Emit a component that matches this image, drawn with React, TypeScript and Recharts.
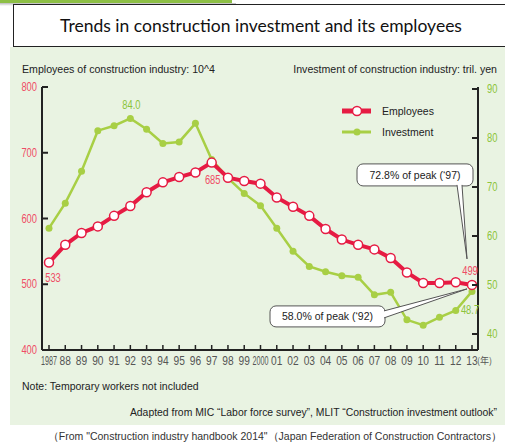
import { LineChart, Line, XAxis, YAxis, ReferenceDot, LabelList } from "recharts";

const years = [
  "1987", "88", "89", "90", "91", "92", "93", "94", "95", "96", "97", "98", "99",
  "2000", "01", "02", "03", "04", "05", "06", "07", "08", "09", "10", "11", "12", "13",
];
// employees of construction industry, 10^4 persons
const employees = [
  533, 560, 578, 588, 604, 619, 640, 655, 663, 670, 685, 662, 657,
  653, 632, 618, 604, 584, 568, 560, 553, 540, 518, 502, 502, 503, 499,
];
// construction investment, trillion yen
const investment = [
  61.6, 66.7, 73.2, 81.5, 82.5, 84.0, 81.8, 78.9, 79.2, 83.0, 75.6, 71.8, 68.7,
  66.2, 61.6, 56.9, 53.8, 52.7, 51.9, 51.6, 48.0, 48.5, 42.9, 41.8, 43.4, 44.8, 48.7,
];
const leftTicks = [400, 500, 600, 700, 800];
const rightTicks = [40, 50, 60, 70, 80, 90];

const data = years.map((year, i) => ({
  year,
  employees: employees[i],
  investment: investment[i],
}));

const RED = "#e61b43";
const RED_TEXT = "#ef4d66";
const GREEN = "#a8cf45";
const GREEN_TEXT = "#8cc43c";
const FONT = "'Liberation Sans', Arial, sans-serif";

// which points carry a value label, and where it sits relative to the point
const employeeLabelAt: Record<number, { dx: number; dy: number }> = {
  0: { dx: 4, dy: 19 },
  10: { dx: 1, dy: 21 },
  26: { dx: -2, dy: -10 },
};
const investmentLabelAt: Record<number, { dx: number; dy: number }> = {
  5: { dx: 1, dy: -9 },
  26: { dx: -2, dy: 23 },
};

const makeLabel = (where: Record<number, { dx: number; dy: number }>, color: string, digits: number) =>
  (props: any) => {
    const { x, y, value, index } = props;
    const pos = where[index];
    if (!pos) return null;
    return (
      <text
        transform={`translate(${x + pos.dx},${y + pos.dy}) scale(0.78,1)`}
        textAnchor="middle"
        fill={color}
        fontSize={12}
        fontFamily={FONT}
      >
        {Number(value).toFixed(digits)}
      </text>
    );
  };

const LeftTick = ({ x, y, payload }: any) => (
  <g>
    <line x1={x} x2={x + 6} y1={y} y2={y} stroke="#222" strokeWidth={2} />
    <text
      transform={`translate(${x - 5},${y + 4}) scale(0.78,1)`}
      textAnchor="end"
      fill={RED_TEXT}
      fontSize={12}
      fontFamily={FONT}
    >
      {payload.value}
    </text>
  </g>
);

const RightTick = ({ x, y, payload }: any) => (
  <g>
    <line x1={x - 6} x2={x} y1={y} y2={y} stroke="#222" strokeWidth={2} />
    <text
      transform={`translate(${x + 9},${y + 4}) scale(0.78,1)`}
      textAnchor="start"
      fill={GREEN_TEXT}
      fontSize={12}
      fontFamily={FONT}
    >
      {payload.value}
    </text>
  </g>
);

const XTick = ({ x, y, payload, index }: any) => {
  const label = String(payload.value);
  const sx = label.length === 4 ? 0.6 : 0.85;
  return (
    <g>
      <line x1={x} x2={x} y1={y - 5} y2={y} stroke="#222" strokeWidth={1.5} />
      <text
        transform={`translate(${x},${y + 15}) scale(${sx},1)`}
        textAnchor="middle"
        fill="#555"
        fontSize={12}
        fontFamily={FONT}
      >
        {label}
      </text>
      {index === years.length - 1 && (
        <text x={x + 5} y={y + 14} fill="#555" fontSize={9} fontFamily="'Noto Sans CJK JP', sans-serif">
          (年)
        </text>
      )}
    </g>
  );
};

// callout boxes hanging off the 2013 point
const Callout = ({ cx, cy, text, box, base, tip }: any) => {
  const [bx, by, bw, bh] = box;
  return (
    <g fontFamily={FONT}>
      <rect x={cx + bx} y={cy + by} width={bw} height={bh} rx={6} fill="#fff" stroke="#555" strokeWidth={1} />
      <polygon
        points={`${cx + base[0]},${cy + base[1]} ${cx + base[2]},${cy + base[3]} ${cx + tip[0]},${cy + tip[1]}`}
        fill="#fff"
        stroke="none"
      />
      <line x1={cx + base[0]} y1={cy + base[1]} x2={cx + tip[0]} y2={cy + tip[1]} stroke="#555" />
      <line x1={cx + base[2]} y1={cy + base[3]} x2={cx + tip[0]} y2={cy + tip[1]} stroke="#555" />
      <text x={cx + bx + bw / 2} y={cy + by + bh / 2 + 4} textAnchor="middle" fontSize={10.5} fill="#222">
        {text}
      </text>
    </g>
  );
};

const LegendBox = () => (
  <svg width={130} height={45} style={{ position: "absolute", left: 340, top: 99 }}>
    <line x1={2} x2={31} y1={12} y2={12} stroke={RED} strokeWidth={5} />
    <circle cx={17} cy={12} r={4.5} fill="#fff" stroke={RED} strokeWidth={1.5} />
    <text x={42} y={16} fontSize={10.5} fill="#222" fontFamily={FONT}>Employees</text>
    <line x1={2} x2={31} y1={33} y2={33} stroke={GREEN} strokeWidth={3} />
    <circle cx={17} cy={33} r={3.5} fill={GREEN} />
    <text x={42} y={37} fontSize={10.5} fill="#222" fontFamily={FONT}>Investment</text>
  </svg>
);

export default function App() {
  const last = years[years.length - 1];
  return (
    <div
      style={{
        position: "absolute",
        left: 0,
        top: 0,
        width: 505,
        height: 445,
        background: "#fff",
        fontFamily: FONT,
        overflow: "hidden",
      }}
    >
      <div style={{ position: "absolute", left: 0, top: 0, width: 232, height: 3, background: "#8dbf45" }} />
      <div
        style={{
          position: "absolute",
          left: 0,
          top: 3,
          width: 236,
          height: 3,
          background: "linear-gradient(#bbb, #fff)",
        }}
      />
      <div
        style={{ position: "absolute", left: 10, top: 47, width: 495, height: 378, background: "#e9f3e2" }}
      />
      <div
        style={{
          position: "absolute",
          left: 13,
          top: 4,
          width: 500,
          height: 41,
          border: "1px solid #222",
          background: "#fff",
          textAlign: "center",
          lineHeight: "41px",
          fontFamily: "Lato, sans-serif",
          fontSize: 17.5,
          color: "#111",
          boxSizing: "content-box",
        }}
      >
        <span style={{ position: "relative", left: -3 }}>Trends in construction investment and its employees</span>
      </div>
      <div style={{ position: "absolute", left: 22, top: 63, fontSize: 10.6, color: "#222" }}>
        Employees of construction industry: 10^4
      </div>
      <div style={{ position: "absolute", right: 8, top: 63, fontSize: 10.6, color: "#222" }}>
        Investment of construction industry: tril. yen
      </div>
      <div style={{ position: "absolute", left: 22, top: 380, fontSize: 10.5, color: "#222" }}>
        Note: Temporary workers not included
      </div>
      <div style={{ position: "absolute", right: 8, top: 407, fontSize: 10.4, color: "#222", whiteSpace: "nowrap" }}>
        Adapted from MIC “Labor force survey”, MLIT “Construction investment outlook”
      </div>
      <div style={{ position: "absolute", right: 3, top: 430, fontSize: 10.5, color: "#333", whiteSpace: "nowrap" }}>
        （From "Construction industry handbook 2014"（Japan Federation of Construction Contractors）
      </div>

      <div style={{ position: "absolute", left: 0, top: 0 }}>
        <LineChart width={505} height={445} data={data} margin={{ top: 87, right: 0, bottom: 75, left: 12 }}>
          <XAxis
            dataKey="year"
            padding={{ left: 7, right: 6 }}
            interval={0}
            tickSize={0}
            tickMargin={0}
            tickLine={false}
            tick={<XTick />}
            axisLine={{ stroke: "#222", strokeWidth: 2 }}
            height={20}
          />
          <YAxis
            yAxisId="left"
            domain={[400, 800]}
            ticks={leftTicks}
            allowDataOverflow
            width={30}
            tickSize={0}
            tickMargin={0}
            tickLine={false}
            tick={<LeftTick />}
            axisLine={{ stroke: "#222", strokeWidth: 2 }}
          />
          <YAxis
            yAxisId="right"
            orientation="right"
            domain={[36.74, 90.41]}
            ticks={rightTicks}
            allowDataOverflow
            width={27}
            tickSize={0}
            tickMargin={0}
            tickLine={false}
            tick={<RightTick />}
            axisLine={{ stroke: "#222", strokeWidth: 2 }}
          />
          <Line
            yAxisId="right"
            dataKey="investment"
            stroke={GREEN}
            strokeWidth={2.5}
            dot={{ r: 3.5, fill: GREEN, stroke: GREEN, strokeWidth: 0 }}
            isAnimationActive={false}
          >
            <LabelList dataKey="investment" content={makeLabel(investmentLabelAt, GREEN_TEXT, 1)} />
          </Line>
          <Line
            yAxisId="left"
            dataKey="employees"
            stroke={RED}
            strokeWidth={4}
            dot={{ r: 4.5, fill: "#fff", stroke: RED, strokeWidth: 1.5 }}
            isAnimationActive={false}
          >
            <LabelList dataKey="employees" content={makeLabel(employeeLabelAt, RED_TEXT, 0)} />
          </Line>
          <ReferenceDot
            yAxisId="left"
            x={last}
            y={employees[employees.length - 1]}
            shape={(p: any) => (
              <Callout
                cx={p.cx}
                cy={p.cy}
                text="72.8% of peak (‘97)"
                box={[-115, -121, 116, 22]}
                base={[-15, -100, -10, -100]}
                tip={[-5, -26]}
              />
            )}
          />
          <ReferenceDot
            yAxisId="left"
            x={last}
            y={employees[employees.length - 1]}
            shape={(p: any) => (
              <Callout
                cx={p.cx}
                cy={p.cy}
                text="58.0% of peak (‘92)"
                box={[-202, 21, 115, 21]}
                base={[-88, 26, -88, 33]}
                tip={[-5, 4]}
              />
            )}
          />
        </LineChart>
      </div>
      <LegendBox />
    </div>
  );
}
